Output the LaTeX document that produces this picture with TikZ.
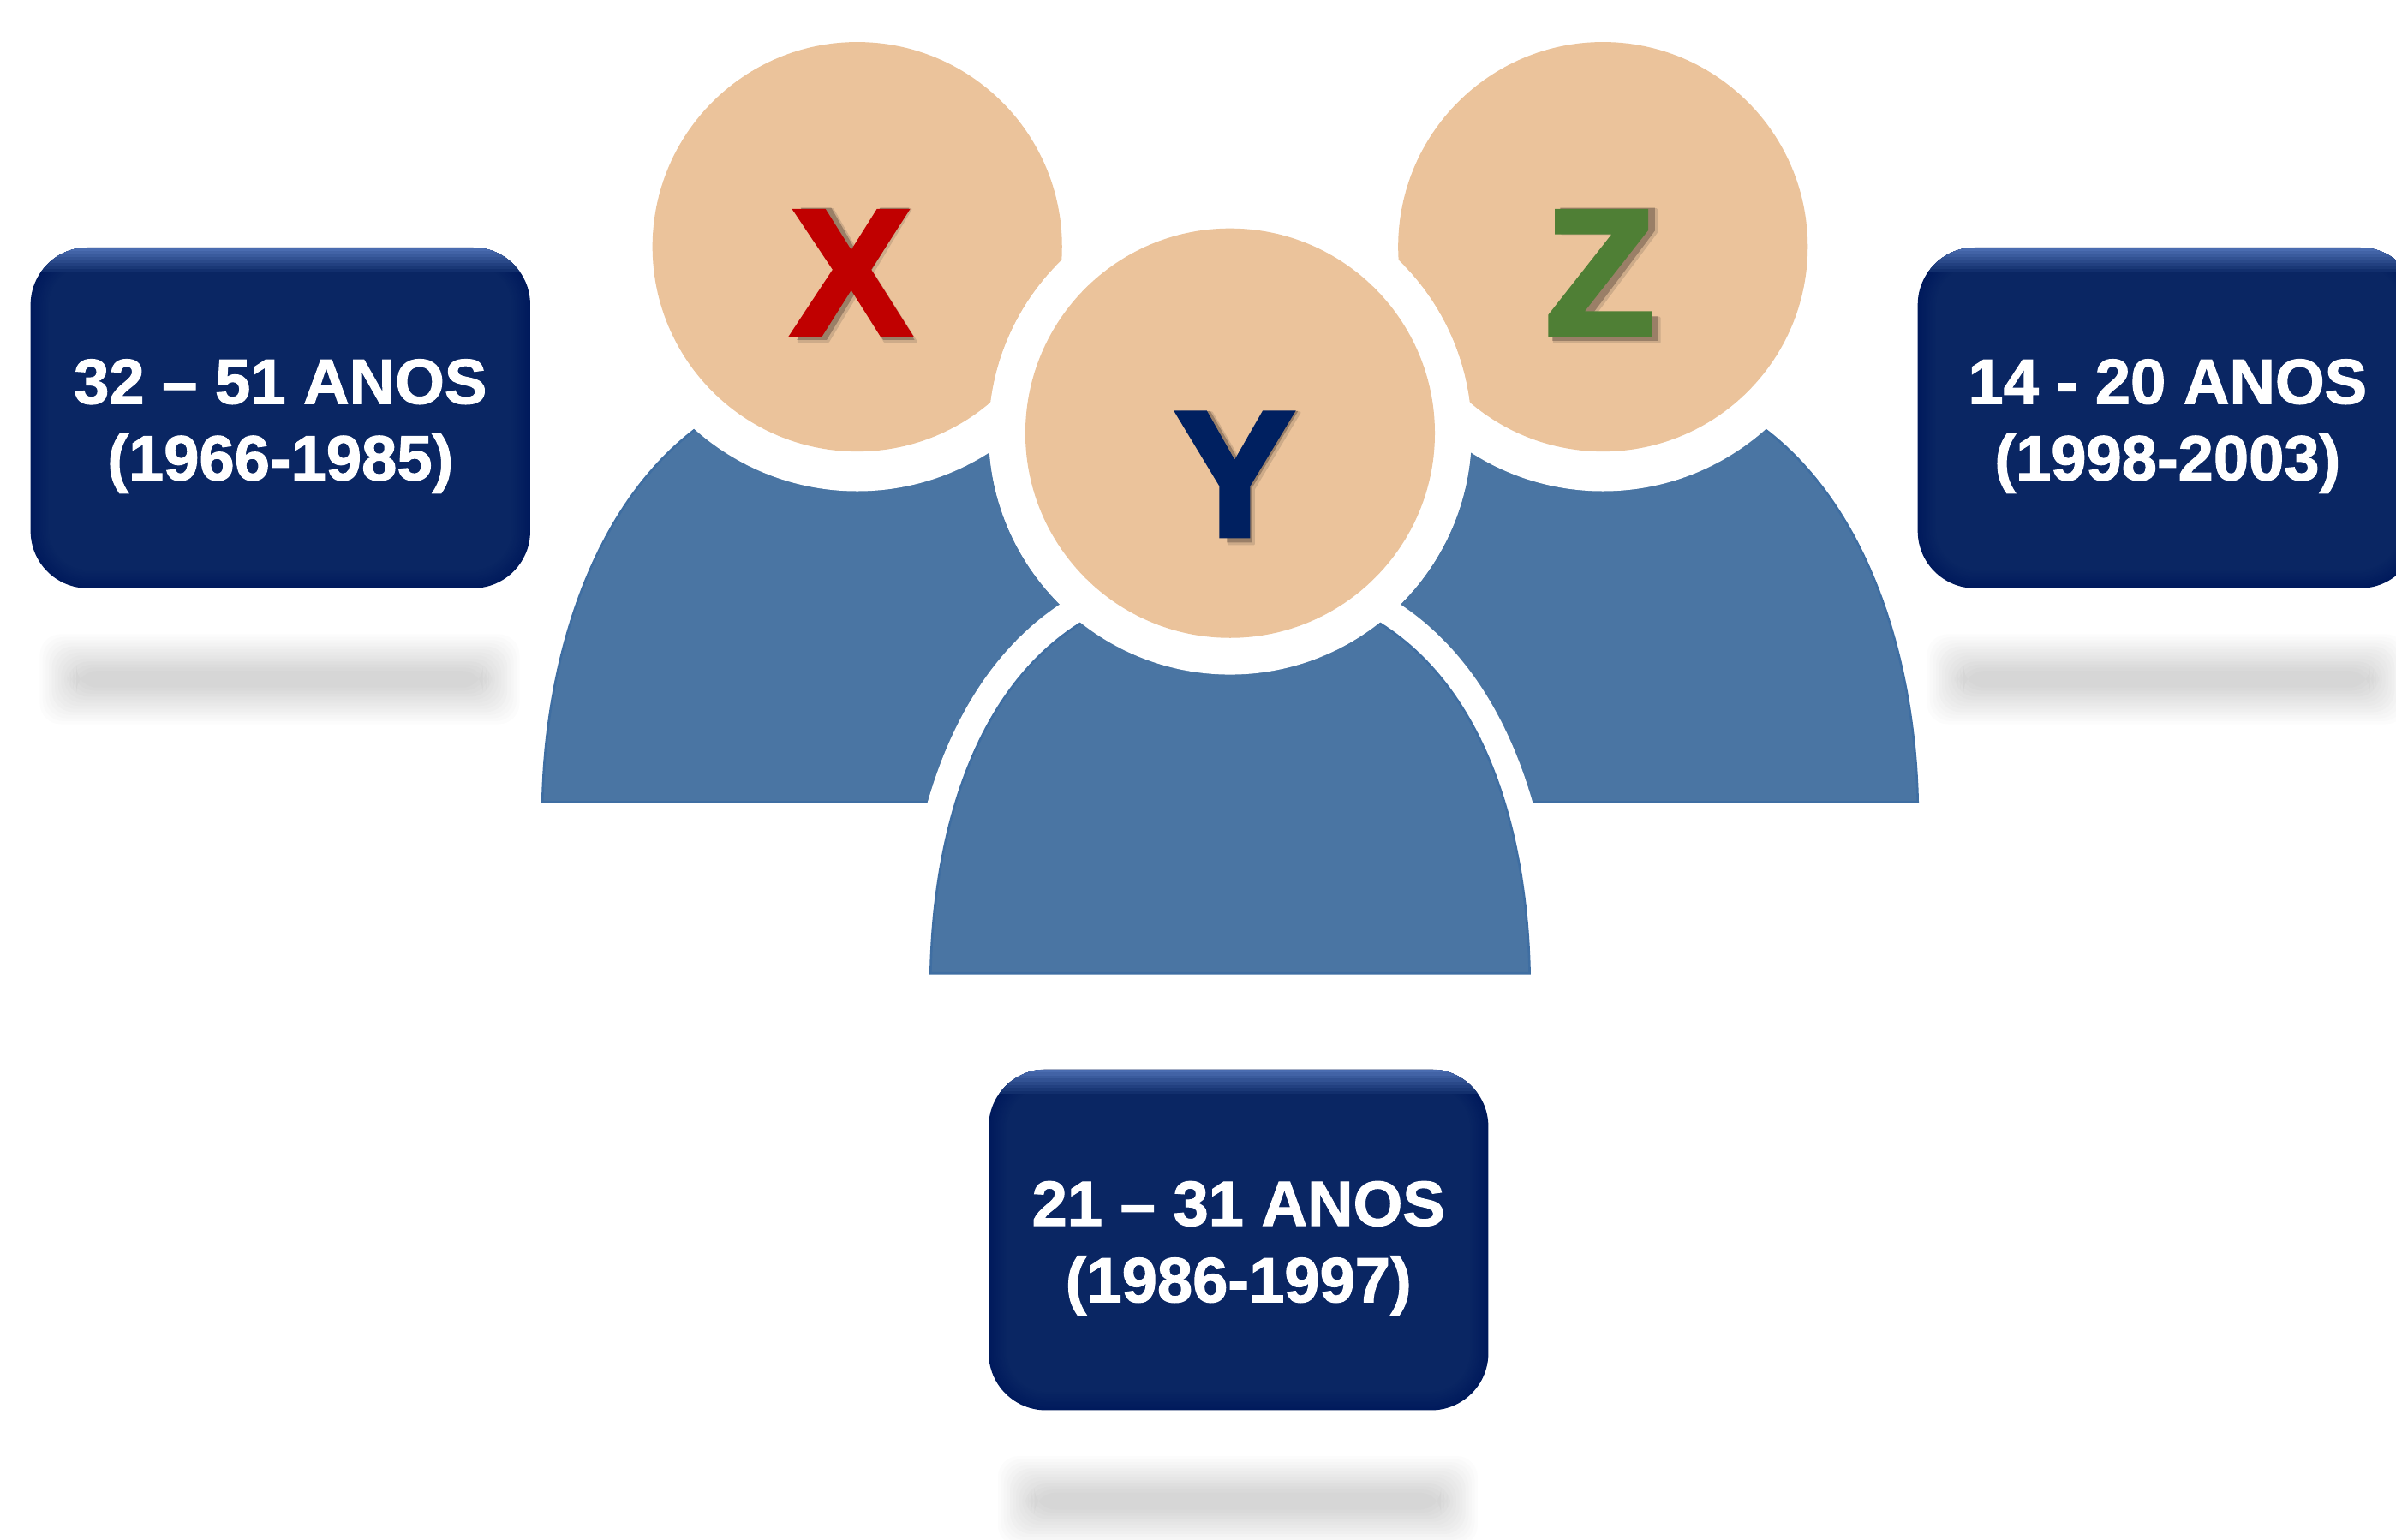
\documentclass[tikz,border=0pt]{standalone}
\usepackage{fontspec}
\setmainfont{Liberation Sans}
\newfontfamily\boxfam{Liberation Sans Bold}[FakeBold=1.5]
\newfontfamily\letterfam{Liberation Sans Bold}[FakeBold=3]
\definecolor{headc}{HTML}{EBC39B}
\definecolor{bodyc}{HTML}{4A75A3}
\definecolor{bodye}{HTML}{3F6EA2}
\definecolor{boxc}{HTML}{0A2663}
\definecolor{boxd}{HTML}{001A5C}
\definecolor{boxl}{HTML}{4A6CB0}
\definecolor{softc}{HTML}{D6D6D6}
\definecolor{xc}{HTML}{C00000}
\definecolor{yc}{HTML}{002060}
\definecolor{zc}{HTML}{4F7F35}
\definecolor{shfar}{HTML}{CDAB89}
\definecolor{shnear}{HTML}{9A7F67}
\tikzset{
  bodyfig/.style={fill=bodyc,draw=bodye,line width=1.5pt},
  headfig/.style={fill=headc},
  halo/.style={fill=white},
  boxtext/.style={text=white,align=center,inner sep=0pt,font=\boxfam\fontsize{42.2}{50.8}\selectfont},
  letter/.style={anchor=base,inner sep=0pt,font=\letterfam\fontsize{118}{118}\selectfont},
  shadowfar/.style={fill=shfar,draw=shfar,line width=1.5pt,line join=round},
  shadownear/.style={fill=shnear}
}
% #1 node name, #2 left, #3 top, #4 text
\newcommand{\agebox}[4]{%
  \foreach \d in {0,2,...,24}{
    \pgfmathsetmacro{\p}{(\d+2)/26*100}
    \fill[softc!\p!white,rounded corners=14pt]
      (#2+6+\d,#3+253+\d) rectangle (#2+320-\d,#3+312-\d);
  }
  \fill[boxd,rounded corners=38pt] (#2,#3) rectangle (#2+327,#3+223);
  \foreach \d in {1,2,...,12}{
    \pgfmathsetmacro{\p}{\d/12*100}
    \fill[boxc!\p!boxd,rounded corners=38pt-\d pt] (#2+\d,#3+\d) rectangle (#2+327-\d,#3+223-\d);
  }
  \begin{scope}
    \clip[rounded corners=38pt] (#2,#3) rectangle (#2+327,#3+223);
    \foreach \d in {16,14,...,1}{
      \pgfmathsetmacro{\p}{(18-\d)/16*100}
      \fill[boxl!\p!boxc] (#2,#3) rectangle (#2+327,#3+\d);
    }
  \end{scope}
  \node[boxtext] (#1) at (#2+163.5,#3+117) {#4};
}
\newcommand{\xshape}{(521,133) -- (541,133) -- (557,161) -- (573,133) -- (592,133) -- (567,174.5) -- (595.5,219.5) -- (575,219.5) -- (556.5,189) -- (538,219.5) -- (518.5,219.5) -- (546,174.5) -- cycle}
\newcommand{\yshape}{(770,266) -- (789,266) -- (808,299) -- (827.5,266) -- (846.5,266) -- (816.5,316) -- (816.5,352) -- (800,352) -- (800,316) -- cycle}
\newcommand{\zshape}{(1018,133) -- (1080,133) -- (1080,148) -- (1038,204) -- (1082,204) -- (1082,220) -- (1013,220) -- (1013,205) -- (1056,149) -- (1018,149) -- cycle}
\begin{document}
\begin{tikzpicture}[x=0.035676cm,y=-0.035676cm]
\useasboundingbox (0,0) rectangle (1568,1007.4);
% back figures
\draw[bodyfig] (355,525) .. controls (357,430) and (388,332) .. (455,281) -- (667,281) .. controls (734,332) and (765,430) .. (767,525) -- cycle;
\fill[halo] (561,161.5) circle[radius=160];
\fill[headfig] (561,161.5) circle[radius=134];
\draw[bodyfig] (843,525) .. controls (845,430) and (876,332) .. (943,281) -- (1155,281) .. controls (1222,332) and (1253,430) .. (1255,525) -- cycle;
\fill[halo] (1049,161.5) circle[radius=160];
\fill[headfig] (1049,161.5) circle[radius=134];
% front figure
\draw[white,line width=36pt,line join=round] (609,637) .. controls (611,540) and (640,450) .. (707,408) -- (903,408) .. controls (970,450) and (999,540) .. (1001,637);
\fill[halo] (805,283.5) circle[radius=158];
\draw[bodyfig] (609,637) .. controls (611,540) and (640,450) .. (707,408) -- (903,408) .. controls (970,450) and (999,540) .. (1001,637) -- cycle;
\fill[halo] (805,283.5) circle[radius=158];
\fill[headfig] (805,283.5) circle[radius=134];
% letter shadows (soft offset shapes)
\begin{scope}[shift={(4,4)}]
  \path[shadowfar] \xshape;
  \path[shadowfar] \yshape;
  \path[shadowfar] \zshape;
\end{scope}
\begin{scope}[shift={(3,3)}]
  \path[shadownear] \xshape;
  \path[shadownear] \yshape;
  \path[shadownear] \zshape;
\end{scope}
% letters
\node[letter,text=xc] (x) at (557,218.5) {X};
\node[letter,text=yc] (y) at (808,350.5) {Y};
\node[letter,text=zc] (z) at (1047,218.5) {Z};
% boxes
\agebox{agex}{20}{162}{32 – 51 ANOS\\(1966-1985)}
\agebox{agez}{1255}{162}{14 - 20 ANOS\\(1998-2003)}
\agebox{agey}{647}{700}{21 – 31 ANOS\\(1986-1997)}
\end{tikzpicture}
\end{document}
